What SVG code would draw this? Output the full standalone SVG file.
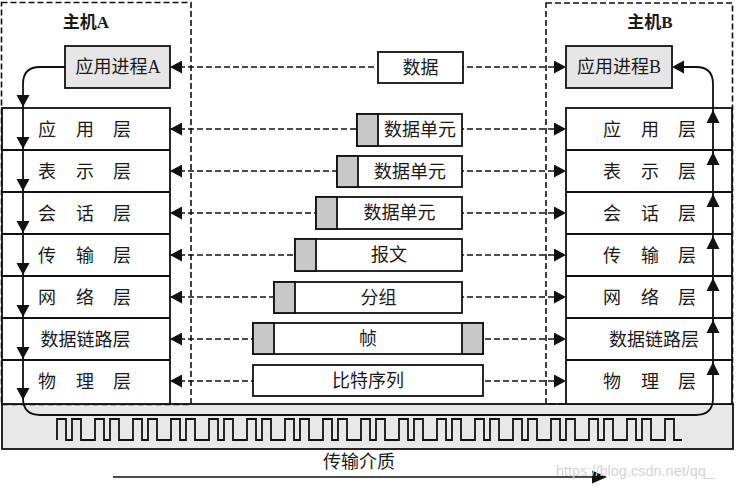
<svg xmlns="http://www.w3.org/2000/svg" width="736" height="489" viewBox="0 0 736 489">
<style>
text{font-family:"Liberation Serif","Noto Sans CJK SC",serif;fill:#1a1a1a;}
.t18{font-size:18px;text-anchor:middle;}
.title{font-size:17px;font-weight:bold;text-anchor:middle;}
.host{fill:none;stroke:#111;stroke-width:1.6;stroke-dasharray:6,3;}
.box{fill:#fff;stroke:#111;stroke-width:1.8;}
.proc{fill:#e6e6e6;stroke:#111;stroke-width:1.8;}
.hdr{fill:#c8c8c8;stroke:#111;stroke-width:1.8;}
.dash{fill:none;stroke:#111;stroke-width:1.6;stroke-dasharray:6,3;marker-start:url(#ah);marker-end:url(#ah);}
.flow{fill:none;stroke:#111;stroke-width:1.8;}
.row{stroke:#111;stroke-width:1.8;}
</style>
<defs>
<marker id="ah" markerUnits="userSpaceOnUse" markerWidth="13" markerHeight="13" refX="12" refY="6.5" orient="auto-start-reverse" viewBox="0 0 13 13">
<path d="M0,0 L12,6.5 L0,13 z" fill="#111"/>
</marker>
<path id="dn" d="M-6.5,-12 L6.5,-12 L0,0 z" fill="#111"/>
<path id="up" d="M-6.5,13 L6.5,13 L0,0 z" fill="#111"/>
</defs>

<g id="medium">
<rect x="2" y="404" width="731" height="45" fill="#e8e8e8" stroke="#111" stroke-width="1.8"/>
<path d="M57,440 V419 H66 V440 H72 V419 H81 V440 H95 V419 H104 V440 H110 V419 H119 V440 H133 V419 H142 V440 H148 V419 H157 V440 H171 V419 H180 V440 H186 V419 H195 V440 H209 V419 H218 V440 H224 V419 H233 V440 H247 V419 H256 V440 H262 V419 H271 V440 H285 V419 H294 V440 H300 V419 H309 V440 H323 V419 H332 V440 H338 V419 H347 V440 H361 V419 H370 V440 H376 V419 H385 V440 H399 V419 H408 V440 H414 V419 H423 V440 H437 V419 H446 V440 H452 V419 H461 V440 H475 V419 H484 V440 H490 V419 H499 V440 H513 V419 H522 V440 H528 V419 H537 V440 H551 V419 H560 V440 H566 V419 H575 V440 H589 V419 H598 V440 H604 V419 H613 V440 H627 V419 H636 V440 H642 V419 H651 V440 H665 V419 H674 V440 H682" fill="none" stroke="#111" stroke-width="1.8"/>
<text class="t18" x="359" y="468">传输介质</text>
<line x1="113" y1="477" x2="592" y2="477" stroke="#111" stroke-width="1.5"/>
<path d="M592,470.5 L607,477 L592,483.5 z" fill="#111"/>
</g>

<g id="hostA">
<rect class="host" x="1.5" y="2.5" width="189.5" height="402"/>
<text class="title" x="86" y="28">主机A</text>
</g>
<g id="hostB">
<rect class="host" x="546" y="3" width="186.5" height="401"/>
<text class="title" x="650" y="28">主机B</text>
</g>

<g id="connectors">
<line class="dash" x1="170" y1="67" x2="566" y2="67"/>
<line class="dash" x1="170" y1="129" x2="566" y2="129"/>
<line class="dash" x1="170" y1="171" x2="566" y2="171"/>
<line class="dash" x1="170" y1="213" x2="566" y2="213"/>
<line class="dash" x1="170" y1="255" x2="566" y2="255"/>
<line class="dash" x1="170" y1="297" x2="566" y2="297"/>
<line class="dash" x1="170" y1="339" x2="566" y2="339"/>
<line class="dash" x1="170" y1="381" x2="566" y2="381"/>
</g>

<g id="procA">
<rect class="proc" x="65" y="46" width="105" height="42"/>
<text class="t18" x="118" y="73">应用进程A</text>
</g>
<g id="procB">
<rect class="proc" x="566" y="46" width="106" height="42"/>
<text class="t18" x="619" y="73">应用进程B</text>
</g>

<g id="stackA">
<rect class="box" x="2" y="108" width="168" height="296"/>
<line class="row" x1="2" y1="150" x2="170" y2="150"/>
<line class="row" x1="2" y1="192" x2="170" y2="192"/>
<line class="row" x1="2" y1="234" x2="170" y2="234"/>
<line class="row" x1="2" y1="276" x2="170" y2="276"/>
<line class="row" x1="2" y1="318" x2="170" y2="318"/>
<line class="row" x1="2" y1="360" x2="170" y2="360"/>
<text class="t18" x="47 85 122" y="135.5">应用层</text>
<text class="t18" x="47 85 122" y="177.5">表示层</text>
<text class="t18" x="47 85 122" y="219.5">会话层</text>
<text class="t18" x="47 85 122" y="261.5">传输层</text>
<text class="t18" x="47 85 122" y="303.5">网络层</text>
<text class="t18" x="85.5" y="345.5">数据链路层</text>
<text class="t18" x="47 85 122" y="387.5">物理层</text>
</g>

<g id="stackB">
<rect class="box" x="566" y="108" width="166" height="296"/>
<line class="row" x1="566" y1="150" x2="732" y2="150"/>
<line class="row" x1="566" y1="192" x2="732" y2="192"/>
<line class="row" x1="566" y1="234" x2="732" y2="234"/>
<line class="row" x1="566" y1="276" x2="732" y2="276"/>
<line class="row" x1="566" y1="318" x2="732" y2="318"/>
<line class="row" x1="566" y1="360" x2="732" y2="360"/>
<text class="t18" x="612 650 687" y="135.5">应用层</text>
<text class="t18" x="612 650 687" y="177.5">表示层</text>
<text class="t18" x="612 650 687" y="219.5">会话层</text>
<text class="t18" x="612 650 687" y="261.5">传输层</text>
<text class="t18" x="612 650 687" y="303.5">网络层</text>
<text class="t18" x="654" y="345.5">数据链路层</text>
<text class="t18" x="612 650 687" y="387.5">物理层</text>
</g>

<g id="data">
<rect class="box" x="378" y="52" width="85" height="31"/>
<text class="t18" x="420.5" y="73.5">数据</text>
</g>
<g id="unit1">
<rect class="box" x="357" y="114" width="105" height="32"/>
<rect class="hdr" x="357" y="114" width="21" height="32"/>
<text class="t18" x="420" y="136">数据单元</text>
</g>
<g id="unit2">
<rect class="box" x="337" y="156" width="125" height="31"/>
<rect class="hdr" x="337" y="156" width="21" height="31"/>
<text class="t18" x="410" y="177.5">数据单元</text>
</g>
<g id="unit3">
<rect class="box" x="316" y="197" width="146" height="32"/>
<rect class="hdr" x="316" y="197" width="21" height="32"/>
<text class="t18" x="399.5" y="219">数据单元</text>
</g>
<g id="segment">
<rect class="box" x="295" y="239" width="167" height="32"/>
<rect class="hdr" x="295" y="239" width="21" height="32"/>
<text class="t18" x="389" y="261">报文</text>
</g>
<g id="packet">
<rect class="box" x="274" y="282" width="188" height="31"/>
<rect class="hdr" x="274" y="282" width="21" height="31"/>
<text class="t18" x="378.5" y="303.5">分组</text>
</g>
<g id="frame">
<rect class="box" x="253" y="323" width="230" height="31"/>
<rect class="hdr" x="253" y="323" width="21" height="31"/>
<rect class="hdr" x="462" y="323" width="21" height="31"/>
<text class="t18" x="368" y="344.5">帧</text>
</g>
<g id="bits">
<rect class="box" x="253" y="365" width="230" height="31"/>
<text class="t18" x="368" y="386.5">比特序列</text>
</g>

<g id="flow">
<path class="flow" d="M65,67 H40 Q23,67 23,84 V398 Q23,415 40,415 H696 Q713,415 713,398 V84 Q713,67 696,67 H684"/>
<path d="M684,60.5 L672,67 L684,73.5 z" fill="#111"/>
<use href="#dn" x="23" y="107"/>
<use href="#dn" x="23" y="149"/>
<use href="#dn" x="23" y="191"/>
<use href="#dn" x="23" y="233"/>
<use href="#dn" x="23" y="275"/>
<use href="#dn" x="23" y="317"/>
<use href="#dn" x="23" y="359"/>
<use href="#dn" x="23" y="400"/>
<use href="#up" x="713" y="110"/>
<use href="#up" x="713" y="152"/>
<use href="#up" x="713" y="194"/>
<use href="#up" x="713" y="236"/>
<use href="#up" x="713" y="278"/>
<use href="#up" x="713" y="320"/>
<use href="#up" x="713" y="362"/>
</g>

<text x="556" y="476" style="font-family:'Liberation Sans',sans-serif;font-size:14.5px;fill:#d4d4d4;">https://blog.csdn.net/qq_</text>
</svg>
